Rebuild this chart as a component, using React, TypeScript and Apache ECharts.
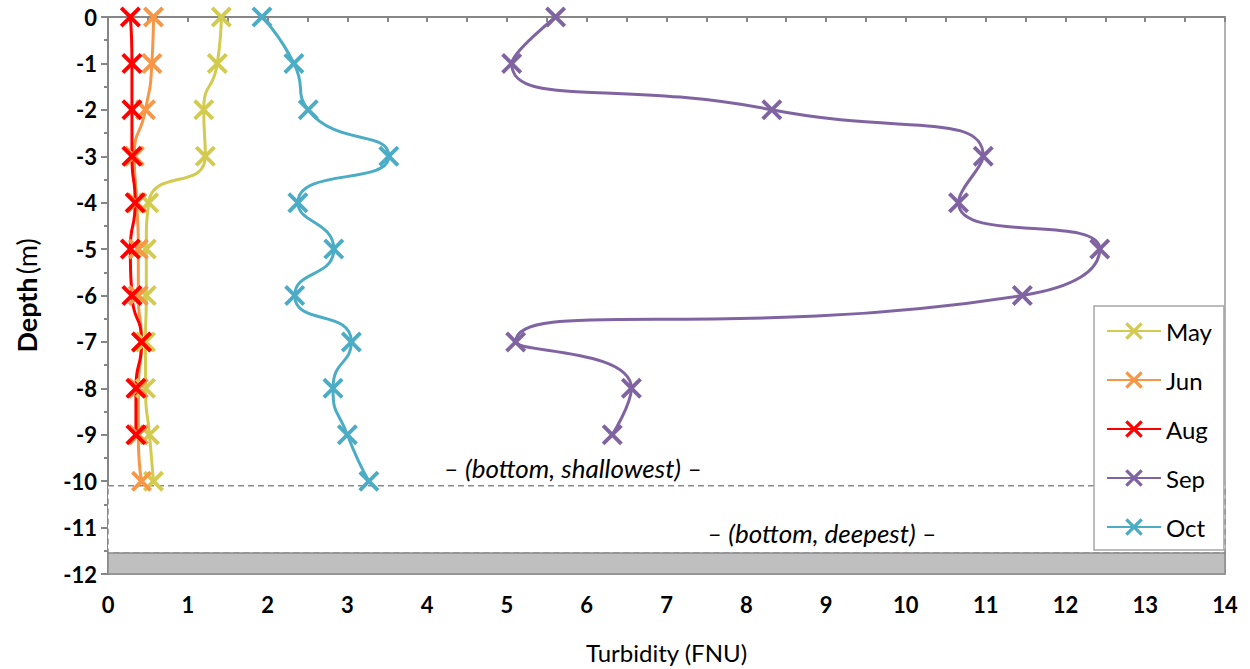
import React, { useEffect, useRef } from "react";
import * as echarts from "echarts";

// Depth of each sampling level (m)
const depths = [0, -1, -2, -3, -4, -5, -6, -7, -8, -9, -10];

// Turbidity profiles (FNU), listed from the surface downwards
const mayValues = [1.42, 1.37, 1.2, 1.22, 0.51, 0.48, 0.48, 0.47, 0.47, 0.52, 0.57];
const junValues = [0.57, 0.55, 0.47, 0.33, 0.36, 0.38, 0.38, 0.42, 0.38, 0.38, 0.42];
const augValues = [0.28, 0.3, 0.3, 0.3, 0.34, 0.28, 0.3, 0.42, 0.35, 0.35];
const sepValues = [5.61, 5.06, 8.32, 10.97, 10.66, 12.43, 11.46, 5.11, 6.56, 6.32];
const octValues = [1.93, 2.33, 2.51, 3.52, 2.38, 2.83, 2.34, 3.05, 2.82, 3.0, 3.27];

const monthNames = ["May", "Jun", "Aug", "Sep", "Oct"];
const monthColors = ["#D2CB50", "#F79646", "#FF0000", "#8064A2", "#4BACC6"];

// Bottom levels (m)
const bottomShallowest = -10.1;
const bottomDeepest = -11.55;
const axisBottom = -12;

const FONT = "Lato, 'Open Sans', sans-serif";

// Filled "X" marker drawn as a polygon in a 100x100 box
const d = 13;
const crossPath =
  "path://M0," + d + "L" + d + ",0L50," + (50 - d) + "L" + (100 - d) + ",0L100," + d +
  "L" + (50 + d) + ",50L100," + (100 - d) + "L" + (100 - d) + ",100L50," + (50 + d) +
  "L" + d + ",100L0," + (100 - d) + "L" + (50 - d) + ",50Z";

function App() {
  const ref = useRef<HTMLDivElement>(null);

  useEffect(() => {
    if (!ref.current) return;
    const chart = echarts.init(ref.current, null, { renderer: "svg" });

    const profiles = [mayValues, junValues, augValues, sepValues, octValues];

    const series: any[] = profiles.map((vals, si) => {
      const s: any = {
        name: monthNames[si],
        type: "line",
        smooth: 0.6,
        data: vals.map((v, i) => [v, depths[i]]),
        symbol: crossPath,
        symbolSize: 21,
        lineStyle: { color: monthColors[si], width: 3 },
        itemStyle: { color: monthColors[si] },
        emphasis: { disabled: true },
      };
      if (si === 0) {
        s.markArea = {
          silent: true,
          label: { show: false },
          data: [
            [
              {
                yAxis: bottomShallowest,
                itemStyle: {
                  color: "#FFFFFF",
                  borderColor: "#8A8A8A",
                  borderWidth: 1.5,
                  borderType: [6, 4],
                },
              },
              { yAxis: bottomDeepest },
            ],
            [
              {
                yAxis: bottomDeepest,
                itemStyle: {
                  color: "#BFBFBF",
                  borderColor: "#8A8A8A",
                  borderWidth: 1.5,
                },
              },
              { yAxis: axisBottom },
            ],
          ],
        };
      }
      return s;
    });

    chart.setOption({
      animation: false,
      textStyle: { fontFamily: FONT },
      grid: {
        left: 108,
        right: 25,
        top: 17,
        bottom: 94,
        show: true,
        borderColor: "#9A9A9A",
        borderWidth: 1.5,
        backgroundColor: "#FFFFFF",
      },
      legend: {
        data: monthNames,
        orient: "vertical",
        left: 1094,
        top: 306,
        itemWidth: 54,
        itemHeight: 22,
        itemGap: 25,
        padding: [13, 12, 11, 12],
        backgroundColor: "#FFFFFF",
        borderColor: "#A6A6A6",
        borderWidth: 1.5,
        textStyle: { fontFamily: FONT, fontSize: 24, lineHeight: 22, color: "#000000" },
      },
      xAxis: {
        type: "value",
        min: 0,
        max: 14,
        interval: 1,
        name: "Turbidity (FNU)",
        nameLocation: "middle",
        nameGap: 66,
        nameTextStyle: { fontFamily: FONT, fontSize: 24, color: "#000000" },
        axisLine: { show: true, lineStyle: { color: "#868686", width: 2 } },
        axisTick: { show: true, length: 5, lineStyle: { color: "#868686", width: 2 } },
        minorTick: { show: true, splitNumber: 2, length: 5, lineStyle: { color: "#868686", width: 2 } },
        axisLabel: { fontFamily: FONT, fontSize: 22, fontWeight: "bold", color: "#000000", margin: 19 },
        splitLine: { show: false },
      },
      yAxis: {
        type: "value",
        min: axisBottom,
        max: 0,
        interval: 1,
        name: "{b|Depth} {n|(m)}",
        nameLocation: "middle",
        nameRotate: 90,
        nameGap: 68,
        nameTextStyle: {
          rich: {
            b: { fontFamily: FONT, fontSize: 27, fontWeight: "bold", color: "#000000" },
            n: { fontFamily: FONT, fontSize: 27, color: "#000000" },
          },
        },
        axisLine: { show: true, onZero: false, lineStyle: { color: "#868686", width: 2 } },
        axisTick: { show: true, length: 7, lineStyle: { color: "#868686", width: 2 } },
        minorTick: { show: true, splitNumber: 2, length: 4, lineStyle: { color: "#868686", width: 2 } },
        axisLabel: { fontFamily: FONT, fontSize: 22, fontWeight: "bold", color: "#000000", margin: 11 },
        splitLine: { show: false },
      },
      graphic: [
        {
          type: "text",
          x: 573,
          y: 468,
          z: 10,
          style: {
            text: "– (bottom, shallowest) –",
            font: "italic 26px " + FONT,
            fill: "#000000",
            align: "center",
            verticalAlign: "middle",
          },
        },
        {
          type: "text",
          x: 822,
          y: 533,
          z: 10,
          style: {
            text: "– (bottom, deepest) –",
            font: "italic 26px " + FONT,
            fill: "#000000",
            align: "center",
            verticalAlign: "middle",
          },
        },
      ],
      series,
    });

    return () => chart.dispose();
  }, []);

  return (
    <div
      ref={ref}
      style={{ position: "absolute", left: 0, top: 0, width: 1250, height: 669, background: "#FFFFFF" }}
    />
  );
}

export default App;
